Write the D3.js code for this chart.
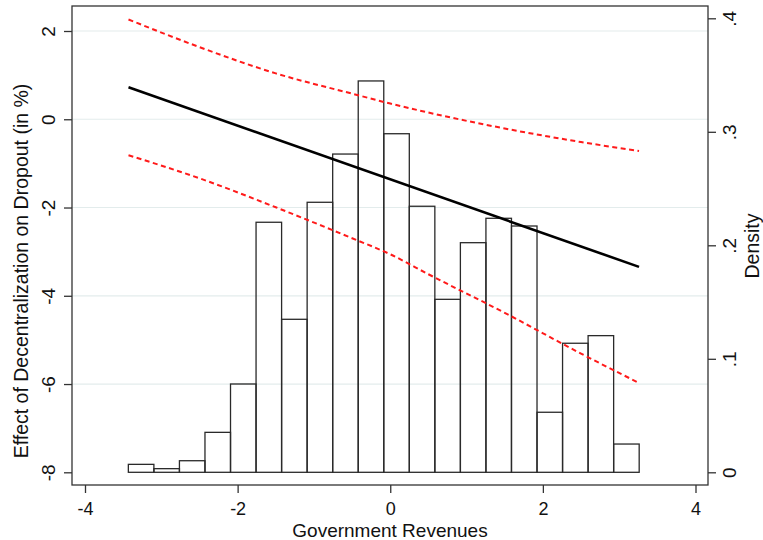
<!DOCTYPE html>
<html>
<head>
<meta charset="utf-8">
<script src="https://cdn.jsdelivr.net/npm/d3@7"></script>
<style>
  html, body { margin: 0; padding: 0; background: #fff; }
  svg { display: block; }
  text { font-family: "Liberation Sans", Arial, Helvetica, sans-serif; fill: #111; }
</style>
</head>
<body>
<svg id="chart" width="763" height="540"></svg>
<script>
// ---- data ----
const xTicks = [-4, -2, 0, 2, 4];
const yLeftTicks = [-8, -6, -4, -2, 0, 2];
const yRightTicks = [0, 0.1, 0.2, 0.3, 0.4];
const yRightLabels = ["0", ".1", ".2", ".3", ".4"];

const histStart = -3.432;
const binWidth = 0.3347;
const densities = [0.007, 0.0032, 0.0102, 0.0352, 0.0778, 0.2203, 0.1348, 0.2379, 0.2804, 0.3448,
                   0.2983, 0.2344, 0.1524, 0.2023, 0.2238, 0.2170, 0.0529, 0.1137, 0.1204, 0.0249];

const lineX = [-3.43, 3.26];
const lineY = [0.725, -3.345];

const ciX     = [-3.43, -2.5, -1.5, -0.5, 0, 0.5, 1.5, 2.5, 3.26];
const ciUpper = [2.26, 1.635, 1.04, 0.58, 0.356, 0.152, -0.209, -0.516, -0.718];
const ciLower = [-0.815, -1.338, -1.995, -2.696, -3.06, -3.512, -4.387, -5.31, -5.975];

const xTitle = "Government Revenues";
const yLeftTitle = "Effect of Decentralization on Dropout (in %)";
const yRightTitle = "Density";

// ---- layout ----
const svg = d3.select("#chart");
const frame = { left: 72, right: 708, top: 6, bottom: 485 };

const x = d3.scaleLinear().domain([-4, 4]).range([85, 695.5]);
const yL = d3.scaleLinear().domain([-8, 2]).range([472.3, 31]);
const yR = d3.scaleLinear().domain([0, 0.4]).range([472.3, 18.3]);

// gridlines
svg.append("g").selectAll("line")
  .data(yLeftTicks.filter(d => d !== -8))
  .join("line")
  .attr("x1", frame.left).attr("x2", frame.right)
  .attr("y1", d => yL(d)).attr("y2", d => yL(d))
  .attr("stroke", "#e3ecec").attr("stroke-width", 1.2);

// histogram
svg.append("g").selectAll("rect")
  .data(densities)
  .join("rect")
  .attr("x", (d, i) => x(histStart + i * binWidth))
  .attr("width", (d, i) => x(histStart + (i + 1) * binWidth) - x(histStart + i * binWidth))
  .attr("y", d => yR(d))
  .attr("height", d => yR(0) - yR(d))
  .attr("fill", "none")
  .attr("stroke", "#2a2a2a")
  .attr("stroke-width", 1.3);

// CI lines
const ciLine = (arr) => d3.line()
  .x((d, i) => x(ciX[i]))
  .y((d, i) => yL(arr[i]))
  .curve(d3.curveMonotoneX)(arr);

[ciUpper, ciLower].forEach(arr => {
  svg.append("path")
    .attr("d", ciLine(arr))
    .attr("fill", "none")
    .attr("stroke", "#ff1a1a")
    .attr("stroke-width", 2)
    .attr("stroke-dasharray", "5,3.5");
});

// fitted line
svg.append("path")
  .attr("d", d3.line().x((d, i) => x(lineX[i])).y(d => yL(d))(lineY))
  .attr("fill", "none")
  .attr("stroke", "#000")
  .attr("stroke-width", 2.6);

// frame
svg.append("rect")
  .attr("x", frame.left).attr("y", frame.top)
  .attr("width", frame.right - frame.left).attr("height", frame.bottom - frame.top)
  .attr("fill", "none").attr("stroke", "#333").attr("stroke-width", 1.3);

// left axis
const gL = svg.append("g").attr("transform", `translate(${frame.left},0)`);
gL.call(d3.axisLeft(yL).tickValues(yLeftTicks).tickSize(8).tickFormat(d3.format("d")));
gL.select(".domain").remove();
gL.selectAll(".tick line").attr("stroke", "#333").attr("stroke-width", 1.3);
gL.selectAll(".tick text")
  .attr("x", null).attr("dy", null)
  .attr("transform", "translate(-17,0) rotate(-90)")
  .attr("text-anchor", "middle")
  .style("font-size", "19px")
  .style("font-family", "'Liberation Sans', Arial, sans-serif")
  .attr("fill", "#111")
  .text(d => d < 0 ? "-" + Math.abs(d) : d);

// right axis
const gR = svg.append("g").attr("transform", `translate(${frame.right},0)`);
gR.call(d3.axisRight(yR).tickValues(yRightTicks).tickSize(8).tickFormat((d, i) => yRightLabels[i]));
gR.select(".domain").remove();
gR.selectAll(".tick line").attr("stroke", "#333").attr("stroke-width", 1.3);
gR.selectAll(".tick text")
  .attr("x", null).attr("dy", null)
  .attr("transform", "translate(28,0) rotate(-90)")
  .attr("text-anchor", "middle")
  .style("font-size", "19px")
  .style("font-family", "'Liberation Sans', Arial, sans-serif")
  .attr("fill", "#111");

// bottom axis
const gB = svg.append("g").attr("transform", `translate(0,${frame.bottom})`);
gB.call(d3.axisBottom(x).tickValues(xTicks).tickSize(8).tickFormat(d => d < 0 ? "-" + Math.abs(d) : String(d)));
gB.select(".domain").remove();
gB.selectAll(".tick line").attr("stroke", "#333").attr("stroke-width", 1.3);
gB.selectAll(".tick text")
  .attr("y", 29.5).attr("dy", null)
  .attr("text-anchor", "middle")
  .style("font-size", "18px")
  .style("font-family", "'Liberation Sans', Arial, sans-serif")
  .attr("fill", "#111");

// titles
svg.append("text")
  .attr("x", 390).attr("y", 537)
  .attr("text-anchor", "middle")
  .style("font-size", "19px")
  .text(xTitle);

svg.append("text")
  .attr("transform", "translate(28,271) rotate(-90)")
  .attr("text-anchor", "middle")
  .style("font-size", "19.5px")
  .text(yLeftTitle);

svg.append("text")
  .attr("transform", "translate(759,246) rotate(-90)")
  .attr("text-anchor", "middle")
  .style("font-size", "19.5px")
  .text(yRightTitle);
</script>
</body>
</html>
